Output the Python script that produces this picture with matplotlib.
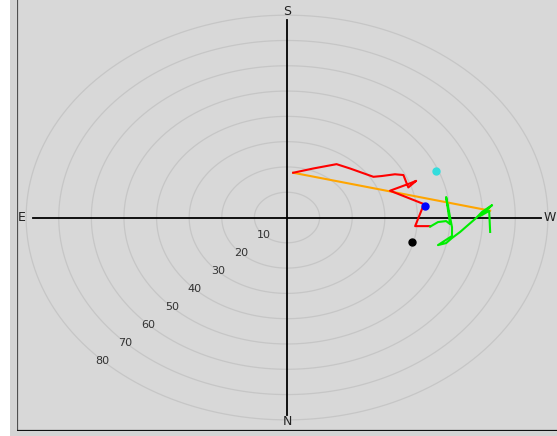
import numpy as np
import matplotlib
matplotlib.use("Agg")
import matplotlib.pyplot as plt
from matplotlib.patches import Rectangle

# ---- data (degrees: x = toward W, y = toward S) ----
ring_values = [10, 20, 30, 40, 50, 60, 70, 80]
ring_labels = ["10", "20", "30", "40", "50", "60", "70", "80"]

red_x = [1.9, 8.1, 15.2, 19.3, 26.5, 29.0, 33.1, 35.7, 37.2, 39.6, 37.7, 31.6, 42.0, 39.3, 43.9]
red_y = [17.7, 19.4, 21.1, 19.4, 16.1, 16.4, 17.1, 16.8, 11.9, 14.5, 13.5, 10.6, 5.3, -3.4, -3.4]

green_x = [43.9, 46.3, 48.8, 50.0, 48.8, 50.6, 50.6, 46.3, 48.8, 50.6, 53.1, 55.5, 58.0, 59.8, 62.9, 59.2, 62.0, 62.3]
green_y = [-3.6, -1.8, -1.4, -2.6, 8.1, -3.8, -7.3, -10.9, -10.1, -8.1, -5.7, -3.0, -0.2, 2.2, 4.9, 0.6, 2.6, -5.7]

orange_x = [1.9, 62.3]
orange_y = [17.7, 2.7]

cyan_pt = (45.7, 18.5)
blue_pt = (42.3, 4.7)
black_pt = (38.4, -9.8)

axis_extent = 78
dir_labels = {"S": (0, 81.5), "N": (0, -80.5), "E": (-81.3, 0), "W": (80.5, 0)}

# ---- figure ----
W, H = 557, 436
fig = plt.figure(figsize=(W / 100, H / 100), dpi=100, facecolor="white")

# outer light frame strips
fig.patches.append(Rectangle((10 / W, 0), 7 / W, 1, transform=fig.transFigure,
                             facecolor="#d4d4d4", edgecolor="none", zorder=0))
fig.patches.append(Rectangle((10 / W, 0), 1, 5 / H, transform=fig.transFigure,
                             facecolor="#d4d4d4", edgecolor="none", zorder=0))

ax = fig.add_axes([17 / W, 5 / H, (W - 17) / W, (H - 5) / H])
ax.set_facecolor("#d8d8d8")
ax.set_xlim(-82.8, 82.8)
ax.set_ylim(-84.4, 86.0)
for s in ["top", "right"]:
    ax.spines[s].set_visible(False)
ax.spines["left"].set_color("#505050")
ax.spines["left"].set_linewidth(1.6)
ax.spines["bottom"].set_color("#111111")
ax.spines["bottom"].set_linewidth(1.6)
ax.set_xticks([])
ax.set_yticks([])

t = np.linspace(0, 2 * np.pi, 400)
for r in ring_values:
    ax.plot(r * np.cos(t), r * np.sin(t), color="#c6c6c6", lw=0.9, zorder=1)

ax.plot([-axis_extent, axis_extent], [0, 0], color="black", lw=1.3, zorder=2)
ax.plot([0, 0], [-axis_extent, axis_extent], color="black", lw=1.3, zorder=2)

for k, (x, y) in dir_labels.items():
    ax.text(x, y, k, ha="center", va="center", fontsize=9, color="#222222", zorder=3)

ang = np.deg2rad(225)
for v, lab in zip(ring_values, ring_labels):
    ax.text(v * np.cos(ang), v * np.sin(ang), lab, ha="center", va="center",
            fontsize=8, color="#333333", zorder=3)

ax.plot(orange_x, orange_y, color="#ffa500", lw=1.5, zorder=4)
ax.plot(red_x, red_y, color="#ff0000", lw=1.5, zorder=5)
ax.plot(green_x, green_y, color="#00ee00", lw=1.5, zorder=5)

ax.plot(*cyan_pt, "o", color="#33dddd", ms=5, zorder=6)
ax.plot(*blue_pt, "o", color="#0000ff", ms=5, zorder=6)
ax.plot(*black_pt, "o", color="black", ms=5, zorder=6)

fig.savefig("out.png", dpi=100, facecolor=fig.get_facecolor())
